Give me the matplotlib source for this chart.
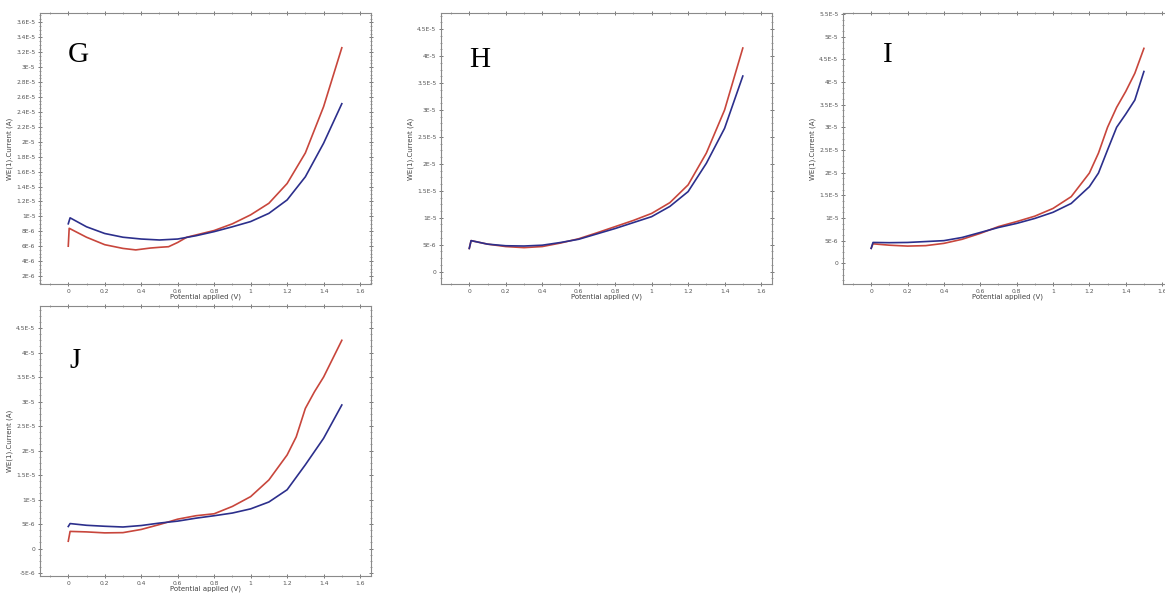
import matplotlib as mpl
import matplotlib.pyplot as plt
from matplotlib.ticker import MultipleLocator, AutoMinorLocator, FuncFormatter

mpl.use('Agg')

# potential (V) and current (in units of 1E-6 A) for each run
g_x_blue = [0.0, 0.01, 0.1, 0.2, 0.3, 0.4, 0.5, 0.6, 0.7, 0.8, 0.9, 1.0, 1.1, 1.2, 1.3, 1.4, 1.5]
g_blue = [9.0, 9.8, 8.6, 7.7, 7.2, 6.96, 6.83, 6.96, 7.4, 7.95, 8.6, 9.3, 10.4, 12.2, 15.3, 19.8, 25.1]
g_x_red = [0.0, 0.005, 0.1, 0.2, 0.3, 0.37, 0.45, 0.5, 0.55, 0.6, 0.65, 0.7, 0.8, 0.9, 1.0, 1.1, 1.2, 1.3, 1.4, 1.5]
g_red = [6.0, 8.4, 7.2, 6.2, 5.7, 5.5, 5.75, 5.85, 5.93, 6.5, 7.2, 7.5, 8.1, 9.0, 10.2, 11.75, 14.4, 18.5, 24.7, 32.6]

h_x = [0.0, 0.01, 0.1, 0.2, 0.3, 0.4, 0.5, 0.6, 0.7, 0.8, 0.9, 1.0, 1.1, 1.2, 1.3, 1.4, 1.5]
h_blue = [4.3, 5.75, 5.1, 4.8, 4.75, 4.9, 5.4, 6.0, 7.0, 8.0, 9.1, 10.2, 12.1, 14.85, 20.1, 26.6, 36.3]
h_red = [4.3, 5.75, 5.1, 4.65, 4.45, 4.65, 5.3, 6.1, 7.2, 8.35, 9.5, 10.8, 12.8, 16.1, 22.0, 30.0, 41.5]

i_x = [0.0, 0.01, 0.1, 0.2, 0.3, 0.4, 0.5, 0.6, 0.7, 0.8, 0.9, 1.0, 1.1, 1.2, 1.25, 1.3, 1.35, 1.4, 1.45, 1.5]
i_blue = [3.3, 4.6, 4.55, 4.6, 4.8, 5.0, 5.7, 6.8, 7.9, 8.8, 9.9, 11.25, 13.2, 16.9, 19.9, 25.0, 30.0, 32.9, 36.0, 42.3]
i_red = [3.3, 4.3, 4.0, 3.8, 3.9, 4.4, 5.3, 6.6, 8.1, 9.2, 10.4, 12.1, 14.7, 19.9, 24.3, 30.0, 34.4, 37.9, 41.9, 47.4]

j_x_blue = [0.0, 0.01, 0.1, 0.2, 0.3, 0.4, 0.5, 0.6, 0.7, 0.8, 0.9, 1.0, 1.1, 1.2, 1.3, 1.4, 1.5]
j_blue = [4.5, 5.1, 4.75, 4.55, 4.4, 4.7, 5.2, 5.6, 6.2, 6.7, 7.25, 8.1, 9.5, 12.0, 17.1, 22.5, 29.3]
j_x_red = [0.0, 0.01, 0.1, 0.2, 0.3, 0.4, 0.5, 0.6, 0.7, 0.75, 0.8, 0.9, 1.0, 1.1, 1.2, 1.25, 1.3, 1.35, 1.4, 1.5]
j_red = [1.5, 3.5, 3.4, 3.2, 3.25, 3.9, 4.9, 6.0, 6.7, 6.9, 7.1, 8.6, 10.6, 14.0, 19.1, 22.8, 28.6, 32.0, 35.0, 42.5]

RED = '#c8463c'
BLUE = '#2c2f8c'
W, H = 1165, 594


def fmt_sci(v, pos):
    if abs(v) < 1e-12:
        return '0'
    m, e = ('%e' % v).split('e')
    return '%gE%d' % (round(float(m), 2), int(e))


def panel(rect, letter, lx, ly, runs, ylim, ystep, ystart):
    ax = fig.add_axes([rect[0] / W, (H - rect[1] - rect[3]) / H, rect[2] / W, rect[3] / H])
    for x, y, c in runs:
        ax.plot(x, [v * 1e-6 for v in y], color=c, lw=1.2)
    ax.set_xlim(-0.155, 1.66)
    ax.set_ylim(*ylim)
    ax.xaxis.set_major_locator(MultipleLocator(0.2))
    ax.xaxis.set_minor_locator(MultipleLocator(0.1))
    n = int(round((ylim[1] - ystart) / ystep)) + 1
    ax.set_yticks([ystart + k * ystep for k in range(n) if ystart + k * ystep <= ylim[1] + 1e-12])
    ax.yaxis.set_minor_locator(AutoMinorLocator(4))
    ax.xaxis.set_major_formatter(FuncFormatter(lambda v, p: '%g' % round(v, 2)))
    ax.yaxis.set_major_formatter(FuncFormatter(fmt_sci))
    for s in ax.spines.values():
        s.set_color('#8a8a8a')
        s.set_linewidth(0.8)
    ax.tick_params(which='both', direction='inout', top=True, right=True,
                   colors='#777777', labelcolor='#555555', labelsize=4.3, pad=1.5)
    ax.tick_params(which='major', length=3.5, width=0.7)
    ax.tick_params(which='minor', length=2, width=0.5)
    ax.set_xlabel('Potential applied (V)', fontsize=5, color='#444444', labelpad=0.3)
    ax.set_ylabel('WE(1).Current (A)', fontsize=5, color='#444444', labelpad=2)
    ax.text(lx, ly, letter, transform=ax.transAxes, fontsize=21,
            family='Liberation Serif', color='black', va='baseline', ha='left')
    return ax


fig = plt.figure(figsize=(W / 100, H / 100), dpi=100)

panel((40, 13, 331, 271), 'G', 0.085, 0.82,
      [(g_x_red, g_red, RED), (g_x_blue, g_blue, BLUE)],
      (0.93e-6, 3.726e-5), 2e-6, 2e-6)
panel((441, 13, 331, 271), 'H', 0.085, 0.80,
      [(h_x, h_red, RED), (h_x, h_blue, BLUE)],
      (-2.3e-6, 4.8e-5), 5e-6, 0.0)
panel((843, 13, 330, 271), 'I', 0.12, 0.82,
      [(i_x, i_red, RED), (i_x, i_blue, BLUE)],
      (-4.56e-6, 5.52e-5), 5e-6, 0.0)
panel((40, 306, 331, 270), 'J', 0.09, 0.77,
      [(j_x_red, j_red, RED), (j_x_blue, j_blue, BLUE)],
      (-5.6e-6, 4.95e-5), 5e-6, -5e-6)

fig.savefig('out.png', dpi=100)
